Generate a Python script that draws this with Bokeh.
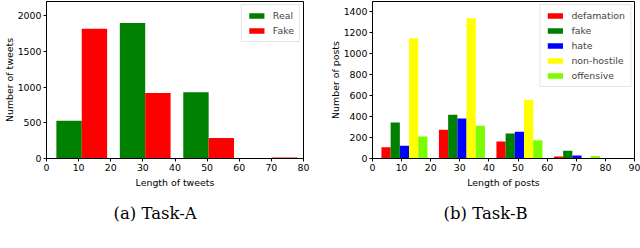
from bokeh.plotting import figure
from bokeh.models import Legend, LegendItem, FixedTicker, Title, Range1d, ColumnDataSource
from bokeh.layouts import row
from bokeh.embed import file_html
from bokeh.resources import INLINE

# ---------------- data ----------------
bin_edges = [1.1, 20.85, 40.6, 60.35, 80.1]

a_series = ["Real", "Fake"]
a_colors = ["#008000", "#ff0000"]
a_real = [530, 1897, 927, 0]
a_fake = [1817, 918, 286, 14]

b_series = ["defamation", "fake", "hate", "non-hostile", "offensive"]
b_colors = ["#ff0000", "#008000", "#0000ff", "#ffff00", "#7cfc00"]
b_defamation = [108, 274, 163, 19]
b_fake = [344, 418, 239, 73]
b_hate = [121, 383, 255, 29]
b_nonhostile = [1148, 1339, 558, 5]
b_offensive = [210, 312, 175, 25]

a_xticks = [0, 10, 20, 30, 40, 50, 60, 70, 80]
a_yticks = [0, 500, 1000, 1500, 2000]
b_xticks = [0, 10, 20, 30, 40, 50, 60, 70, 80, 90]
b_yticks = [0, 200, 400, 600, 800, 1000, 1200, 1400]

SANS = "DejaVu Sans"
SERIF = "DejaVu Serif"
FS = "9.4px"


def style(p, xticks, yticks, xlabel, ylabel):
    p.xaxis.ticker = FixedTicker(ticks=xticks)
    p.yaxis.ticker = FixedTicker(ticks=yticks)
    p.xaxis.axis_label = xlabel
    p.yaxis.axis_label = ylabel
    for ax in (p.xaxis, p.yaxis):
        ax.axis_label_text_font = SANS
        ax.axis_label_text_font_size = FS
        ax.axis_label_text_font_style = "normal"
        ax.axis_label_text_color = "black"
        ax.major_label_text_font = SANS
        ax.major_label_text_font_size = FS
        ax.major_label_text_color = "black"
        ax.axis_line_color = "black"
        ax.major_tick_line_color = "black"
        ax.major_tick_out = 3
        ax.major_tick_in = 0
        ax.minor_tick_line_color = None
        ax.major_label_standoff = 2
        ax.axis_label_standoff = 3
    p.yaxis.axis_label_standoff = 0
    p.xgrid.grid_line_color = None
    p.ygrid.grid_line_color = None
    p.outline_line_color = "black"
    p.outline_line_alpha = 1
    p.outline_line_width = 1
    p.background_fill_color = "white"
    p.border_fill_color = "white"


def hist_bars(p, series, colors, values):
    n = len(series)
    items = []
    for k, (name, col, vals) in enumerate(zip(series, colors, values)):
        xs, ws = [], []
        for i in range(len(bin_edges) - 1):
            bw = bin_edges[i + 1] - bin_edges[i]
            barw = 0.8 * bw / n
            left = bin_edges[i] + 0.1 * bw + k * barw
            xs.append(left + barw / 2)
            ws.append(barw)
        src = ColumnDataSource(dict(x=xs, w=ws, top=vals))
        r = p.vbar(x="x", width="w", top="top", bottom=0, source=src,
                   fill_color=col, line_color=None)
        items.append(LegendItem(label=name, renderers=[r]))
    leg = Legend(items=items, location="top_right",
                 label_text_font=SANS, label_text_font_size=FS,
                 label_height=10, glyph_height=7, glyph_width=19,
                 label_standoff=7, spacing=4, padding=5, margin=3,
                 border_line_color="#cccccc", border_line_width=1,
                 background_fill_alpha=0.8)
    p.add_layout(leg)


def caption(p, text, offset):
    t = Title(text=text, align="left", offset=offset,
              text_font=SERIF, text_font_size="16.5px",
              text_font_style="normal", text_color="black", standoff=23)
    p.add_layout(t, "below")


# ---------------- Task-A ----------------
pa = figure(frame_width=257, frame_height=157, output_backend="svg",
            toolbar_location=None,
            x_range=Range1d(0, 80), y_range=Range1d(0, 2200),
            min_border_left=46, min_border_right=17, min_border_top=1,
            min_border_bottom=88)
style(pa, a_xticks, a_yticks, "Length of tweets", "Number of tweets")
hist_bars(pa, a_series, a_colors, [a_real, a_fake])
caption(pa, "(a) Task-A", 67)

# ---------------- Task-B ----------------
pb = figure(frame_width=262, frame_height=157, output_backend="svg",
            toolbar_location=None,
            x_range=Range1d(0, 90), y_range=Range1d(0, 1500),
            min_border_left=52, min_border_right=6, min_border_top=1,
            min_border_bottom=88)
style(pb, b_xticks, b_yticks, "Length of posts", "Number of posts")
hist_bars(pb, b_series, b_colors,
          [b_defamation, b_fake, b_hate, b_nonhostile, b_offensive])
caption(pb, "(b) Task-B", 71)

layout = row(pa, pb, spacing=0)
open("out.html", "w").write(file_html(layout, INLINE))
